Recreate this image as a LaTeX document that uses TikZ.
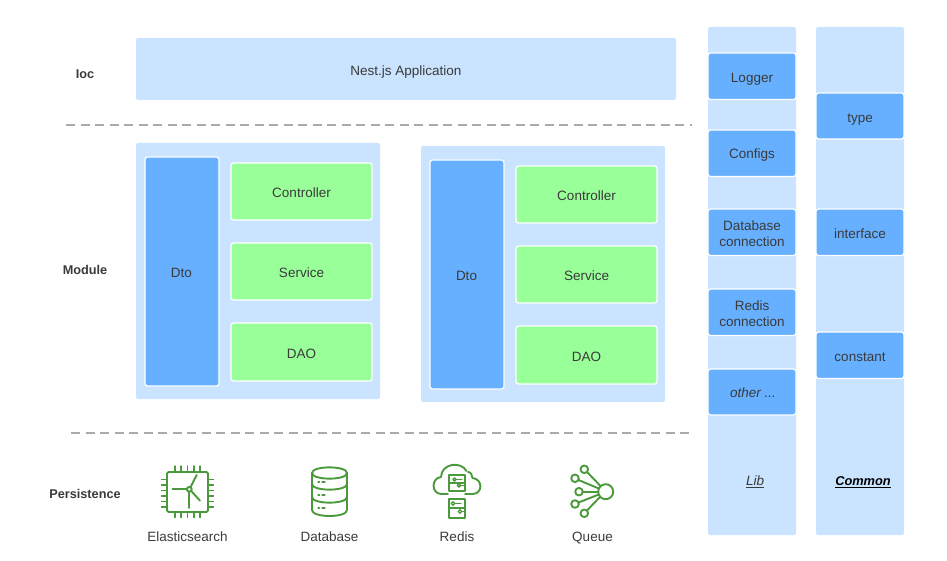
\documentclass[tikz,border=0pt]{standalone}
\usepackage{fontspec}
\setmainfont{Liberation Sans}
\definecolor{lightb}{HTML}{CAE3FF}
\definecolor{midb}{HTML}{66B0FF}
\definecolor{grn}{HTML}{99FF99}
\definecolor{icong}{HTML}{4A9A3C}
\definecolor{txt}{HTML}{3A3A3A}
\definecolor{dash}{HTML}{AAAAAA}
\tikzset{
  pane/.style={fill=lightb,draw=none,rounded corners=2pt},
  bluebox/.style={fill=midb,draw=white,line width=1.3pt,rounded corners=2.5pt},
  greenbox/.style={fill=grn,draw=white,line width=1.3pt,rounded corners=2.5pt},
  lbl/.style={text=txt,font=\fontsize{13.5}{16}\selectfont,align=center,inner sep=0pt,anchor=base,yshift=-0.8pt},
  twoline/.style={text=txt,font=\fontsize{13.5}{16}\selectfont,align=center,inner sep=0pt},
  side/.style={text=txt,font=\fontsize{12.7}{15}\selectfont\bfseries,inner sep=0pt},
  divider/.style={draw=dash,line width=1.2pt,dash pattern=on 9pt off 5.5pt},
  ico/.style={draw=icong,line width=1.9pt,line cap=round,line join=round},
  icotxt/.style={ico,line width=1.3pt}
}
\newcommand{\pbox}[6]{% name style x0 y0 x1 y1
  \path[#2] (#3,#4) rectangle (#5,#6);
  \coordinate (#1) at ({(#3+#5)/2},{(#4+#6)/2});
}
\begin{document}
\begin{tikzpicture}[x=1pt,y=-1pt]
\useasboundingbox (0,0) rectangle (947,561);
% ioc
\pbox{app}{pane}{136}{38}{676}{100}
\node[lbl] at (406,75) {Nest.js Application};
\node[side] (ioc) at (85,74) {Ioc};
\node[side] (module) at (85,270) {Module};
\node[side] (persist) at (85,494) {Persistence};
% dividers
\coordinate (d1a) at (66,125); \coordinate (d1b) at (692,125);
\coordinate (d2a) at (71,433); \coordinate (d2b) at (690,433);
\draw[divider] (d1a) -- (d1b);
\draw[divider] (d2a) -- (d2b);
% modules
\foreach \dx/\dy/\n in {0/0/a,285/3/b}{
  \begin{scope}[shift={(\dx,\dy)}]
    \pbox{mod\n}{pane}{136}{143}{380}{399}
    \pbox{dto\n}{bluebox}{145}{157}{219}{386}
    \pbox{ctl\n}{greenbox}{231}{163}{372}{220}
    \pbox{svc\n}{greenbox}{231}{243}{372}{300}
    \pbox{dao\n}{greenbox}{231}{323}{372}{381}
    \node[lbl] at (181.5,277) {Dto};
    \node[lbl] at (301.5,197) {Controller};
    \node[lbl] at (301.5,277) {Service};
    \node[lbl] at (301.5,358) {DAO};
  \end{scope}
}
% lib column
\pbox{lib}{pane}{708}{27}{796}{535}
\pbox{common}{pane}{816}{27}{904}{535}
\pbox{logger}{bluebox}{708}{53}{796}{99.5}
\pbox{configs}{bluebox}{708}{130}{796}{176.5}
\pbox{dbc}{bluebox}{708}{209}{796}{255.5}
\pbox{rc}{bluebox}{708}{289}{796}{335.5}
\pbox{other}{bluebox}{708}{369}{796}{415}
\pbox{type}{bluebox}{816}{93}{904}{139}
\pbox{iface}{bluebox}{816}{209}{904}{255.5}
\pbox{const}{bluebox}{816}{332}{904}{378.5}
\node[lbl] at (752,82) {Logger};
\node[lbl] at (752,158) {Configs};
\node[twoline] at (752,233.5) {Database\\connection};
\node[twoline] at (752,313.5) {Redis\\connection};
\node[lbl,font=\fontsize{13.5}{16}\selectfont\itshape] at (753,397) {other ...};
\node[lbl,font=\fontsize{13.5}{16}\selectfont\itshape] at (755,485) {\underline{Lib}};
\node[lbl,text=black,font=\fontsize{12.8}{16}\selectfont\itshape\bfseries] at (863,485) {\underline{Common}};
\node[lbl] at (860,122) {type};
\node[lbl] at (860,238) {interface};
\node[lbl] at (860,361) {constant};
% chip icon
\draw[ico,rounded corners=1.5pt] (167,472) rectangle (208,512);
\foreach \p in {175,181,187.5,194,200}{
  \draw[ico,line width=1.5pt] (\p,466) -- (\p,472);
  \draw[ico,line width=1.5pt] (\p,512) -- (\p,517.5);
}
\foreach \p in {479.5,485,490.5,496,501.5,507}{
  \draw[ico,line width=1.5pt] (161.5,\p) -- (167,\p);
  \draw[ico,line width=1.5pt] (208,\p) -- (213.5,\p);
}
\draw[ico] (189.3,489.3) circle (2.4);
\draw[ico] (190.5,487.2) -- (196.7,475);
\draw[ico] (186.9,489.3) -- (172.7,489.3);
\draw[ico] (189.3,491.7) -- (189.3,508);
\draw[ico] (191.2,491) -- (200,500.7);
\node[lbl] at (187.5,540.5) {Elasticsearch};
% database icon
\draw[ico] (312,473) .. controls (312,465.5) and (347,465.5) .. (347,473)
  -- (347,510) .. controls (347,518) and (312,518) .. (312,510) -- cycle;
\draw[ico] (312,473) .. controls (312,480.5) and (347,480.5) .. (347,473);
\draw[ico] (312,484) .. controls (312,491.5) and (347,491.5) .. (347,484);
\draw[ico] (312,497) .. controls (312,504.5) and (347,504.5) .. (347,497);
\foreach \q in {482,495,508}{
  \draw[icotxt] (318,\q) -- (319.5,\q);
  \draw[icotxt] (322,\q) -- (325,\q);
}
\node[lbl] at (329.5,540.5) {Database};
% redis icon
\draw[ico] (448,494) -- (441.5,494)
  .. controls (431,494) and (431,478) .. (441,477)
  .. controls (441.5,463) and (461,461) .. (466.5,471);
\draw[ico] (468,472) .. controls (471.5,472) and (472,476) .. (472.5,478)
  .. controls (483,479) and (483,494) .. (472.5,494) -- (465,494);
\foreach \yy/\yb in {474.5/490.5,498.5/517.5}{
  \draw[ico,line width=2pt] (448.5,\yy) rectangle (465,\yb);
}
\draw[icotxt] (448.5,483) -- (465,483);
\draw[icotxt] (448.5,508) -- (465,508);
\draw[icotxt] (454.5,479.5) circle (1.6);
\draw[icotxt] (459,485.5) circle (1.6);
\draw[icotxt] (453,503.5) circle (1.8);
\draw[icotxt] (460,511.5) circle (1.8);
\draw[icotxt] (456,479.5) -- (462,479.5);
\draw[icotxt] (460.5,485.5) -- (465,485.5);
\draw[icotxt] (455,503.5) -- (461,503.5);
\draw[icotxt] (462,511.5) -- (465,511.5);
\node[lbl] at (457,540.5) {Redis};
% queue icon
\draw[ico] (605.7,491.7) circle (7.5);
\foreach \x/\y in {584.3/469.3,575/478.3,579/491.7,575/504,584.3/513.3}{
  \draw[ico] (\x,\y) circle (3.8);
}
\draw[ico] (587,472) -- (600,485.5);
\draw[ico] (578.5,480) -- (598.8,488.5);
\draw[ico] (582.8,491.7) -- (598.2,491.7);
\draw[ico] (578.5,502.5) -- (598.8,494.5);
\draw[ico] (587,510.5) -- (600,497);
\node[lbl] at (592.5,540.5) {Queue};
\end{tikzpicture}
\end{document}
